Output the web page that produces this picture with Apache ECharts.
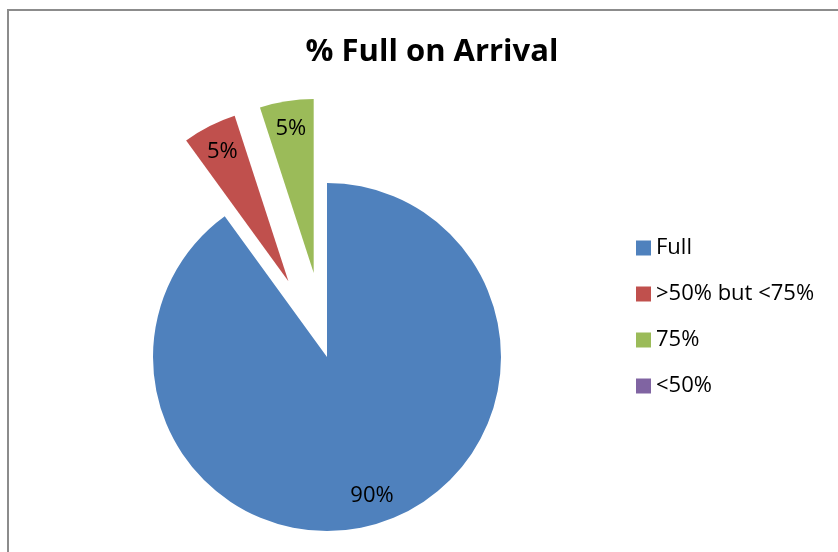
<!DOCTYPE html>
<html>
<head>
<meta charset="utf-8">
<script src="https://cdn.jsdelivr.net/npm/echarts@6/dist/echarts.min.js"></script>
<style>
  html, body { margin: 0; padding: 0; background: #fff; }
  #wrap { position: relative; width: 838px; height: 552px; overflow: hidden; }
  #chart { position: absolute; left: 0; top: 0; width: 838px; height: 552px; }
  #frame { position: absolute; left: 7px; top: 9px; width: 900px; height: 700px;
           border-left: 2px solid #8c8c8c; border-top: 2px solid #8c8c8c; pointer-events: none; }
</style>
</head>
<body>
<div id="wrap">
  <div id="chart"></div>
  <div id="frame"></div>
</div>
<script>
// Share of arrivals by how full they were, in percent
const categories = ['Full', '>50% but <75%', '75%', '<50%'];
const shares = [90, 5, 5, 0];
const exploded = [false, true, true, false];
const colors = ['#4F81BD', '#C0504D', '#9BBB59', '#8064A2'];

const FONT = '"Open Sans", Lato, sans-serif';
const CENTER = [327, 357];
const R = 174;
const OFFSET = 85;

const sliceData = categories.map((name, i) => ({
  name: name,
  value: shares[i],
  selected: exploded[i],
  itemStyle: { color: colors[i] }
}));

const chart = echarts.init(document.getElementById('chart'), null, { renderer: 'canvas' });
chart.setOption({
  animation: false,
  backgroundColor: 'transparent',
  title: {
    text: '% Full on Arrival',
    left: 427,
    top: 32,
    textAlign: 'center',
    textStyle: { fontFamily: FONT, fontWeight: 'bold', fontSize: 31, color: '#000' }
  },
  legend: {
    orient: 'vertical',
    left: 631,
    top: 232,
    icon: 'rect',
    itemWidth: 15,
    itemHeight: 15,
    itemGap: 24,
    selectedMode: false,
    data: categories,
    textStyle: { fontFamily: FONT, fontSize: 22, color: '#000', lineHeight: 22 }
  },
  series: [
    {
      // the slices themselves
      type: 'pie',
      center: CENTER,
      radius: [0, R],
      startAngle: 90,
      clockwise: true,
      selectedMode: 'multiple',
      selectedOffset: OFFSET,
      silent: true,
      label: { show: false },
      labelLine: { show: false },
      emphasis: { disabled: true },
      data: sliceData
    },
    {
      // transparent ring carrying the percentage labels near the rim
      type: 'pie',
      center: CENTER,
      radius: [R * 0.64, R],
      startAngle: 90,
      clockwise: true,
      selectedMode: 'multiple',
      selectedOffset: OFFSET,
      silent: true,
      itemStyle: { color: 'rgba(0,0,0,0)' },
      emphasis: { disabled: true },
      labelLine: { show: false },
      label: {
        show: true,
        position: 'inner',
        fontFamily: FONT,
        fontSize: 22,
        color: '#000',
        formatter: p => (p.value > 0 ? Math.round(p.percent) + '%' : '')
      },
      data: categories.map((name, i) => ({
        name: name,
        value: shares[i],
        selected: exploded[i]
      }))
    }
  ]
});
</script>
</body>
</html>
